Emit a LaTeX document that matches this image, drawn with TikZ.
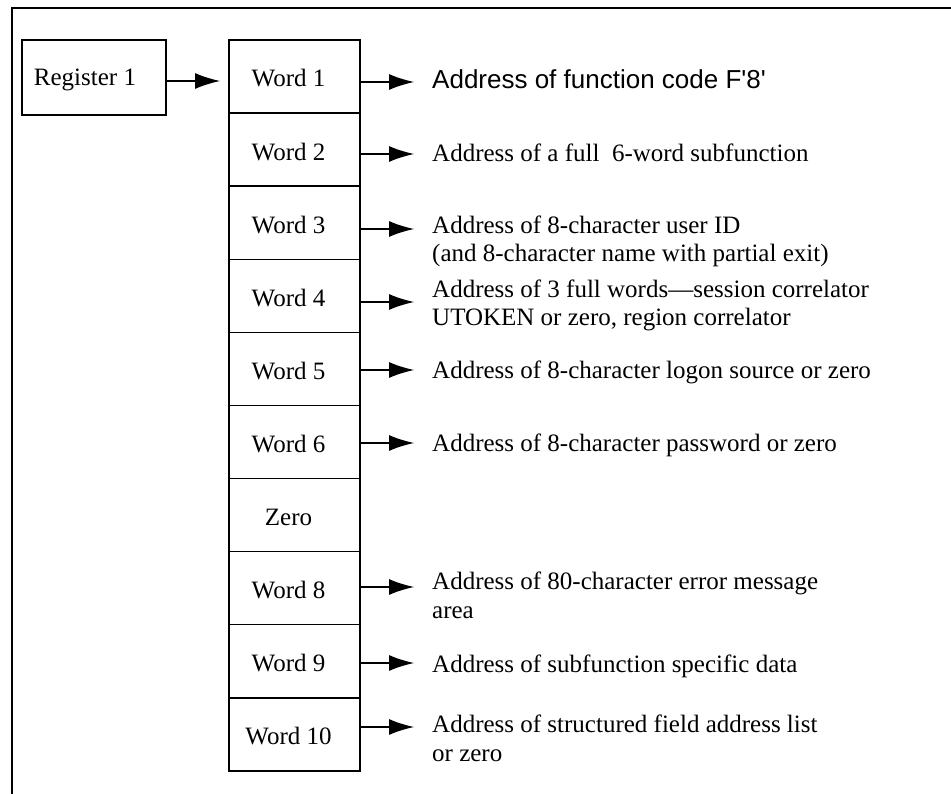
\documentclass[tikz,border=0pt]{standalone}
\usepackage{fontspec}
\setmainfont{Liberation Serif}
\newfontfamily\arialf{Liberation Sans}[Ligatures=ResetAll]
\usetikzlibrary{arrows.meta}
\begin{document}
\begin{tikzpicture}[x=1pt,y=-1pt,
  cell/.style={draw, line width=1.3pt, minimum width=131pt, minimum height=73.1pt,
    inner sep=0pt, label={[font=\fontsize{25}{29}\selectfont, xshift=-6pt, yshift=-2pt]center:#1}},
  desc/.style={anchor=base west, inner sep=0pt, align=left,
    font=\fontsize{25}{28.8}\selectfont},
  arr/.style={line width=1.3pt, -{Latex[length=25pt,width=16pt]}},
]
\useasboundingbox (0,0) rectangle (951,794);
% frame
\draw[line width=1.8pt] (12,794) -- (12,8) -- (951,8);

% register
\node[draw, line width=1.3pt, minimum width=144pt, minimum height=75pt, inner sep=0pt,
  label={[font=\fontsize{25}{29}\selectfont, xshift=-9pt, yshift=-2pt]center:Register 1}]
  (reg) at (94,77.5) {};

% column of words
\node[cell=Word 1]  (w1)  at (294.5,76.5) {};
\node[cell=Word 2]  (w2)  at (294.5,149.6) {};
\node[cell=Word 3]  (w3)  at (294.5,222.7) {};
\node[cell=Word 4]  (w4)  at (294.5,295.8) {};
\node[cell=Word 5]  (w5)  at (294.5,368.9) {};
\node[cell=Word 6]  (w6)  at (294.5,442) {};
\node[cell=Zero]    (w7)  at (294.5,515.1) {};
\node[cell=Word 8]  (w8)  at (294.5,588.2) {};
\node[cell=Word 9]  (w9)  at (294.5,661.3) {};
\node[cell=Word 10] (w10) at (294.5,734.4) {};

% descriptions
\node[desc, font=\arialf\fontsize{26}{29}\selectfont] (d1) at (432,89) {Address of function code F'8'};
\node[desc] (d2) at (432,162) {Address of a full\ \ 6-word subfunction};
\node[desc] (d3) at (432,262) {Address of 8-character user ID\\(and 8-character name with partial exit)};
\node[desc] (d4) at (432,326) {Address of 3 full words—session correlator\\UTOKEN or zero, region correlator};
\node[desc] (d5) at (432,378) {Address of 8-character logon source or zero};
\node[desc] (d6) at (432,451) {Address of 8-character password or zero};
\node[desc] (d8) at (432,618) {Address of 80-character error message\\area};
\node[desc] (d9) at (432,672) {Address of subfunction specific data};
\node[desc] (d10) at (432,761) {Address of structured field address list\\or zero};

% arrow tips
\coordinate (t0) at (220,81);
\coordinate (t1) at (414,82);
\coordinate (t2) at (414,154);
\coordinate (t3) at (414,229);
\coordinate (t4) at (414,302);
\coordinate (t5) at (414,370);
\coordinate (t6) at (414,443);
\coordinate (t8) at (414,587);
\coordinate (t9) at (414,663);
\coordinate (t10) at (414,727);

\draw[arr] (reg.east |- t0) -- (t0);
\draw[arr] (w1.east |- t1) -- (t1);
\draw[arr] (w2.east |- t2) -- (t2);
\draw[arr] (w3.east |- t3) -- (t3);
\draw[arr] (w4.east |- t4) -- (t4);
\draw[arr] (w5.east |- t5) -- (t5);
\draw[arr] (w6.east |- t6) -- (t6);
\draw[arr] (w8.east |- t8) -- (t8);
\draw[arr] (w9.east |- t9) -- (t9);
\draw[arr] (w10.east |- t10) -- (t10);
\end{tikzpicture}
\end{document}
